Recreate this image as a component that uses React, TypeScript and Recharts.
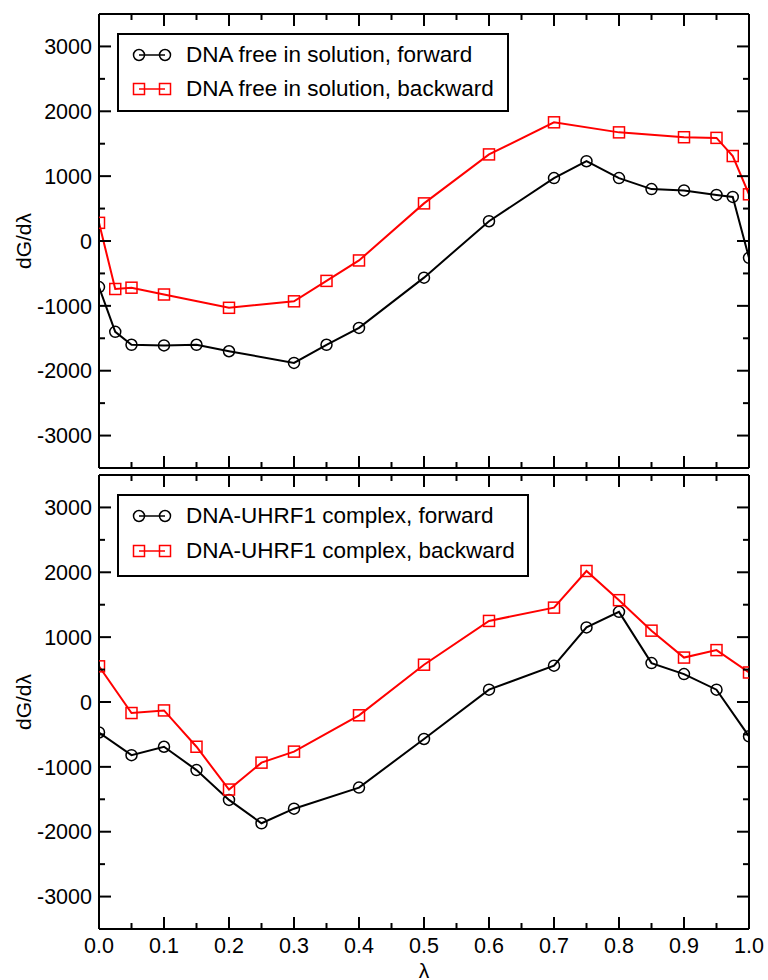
import React from 'react';
import { LineChart, Line, XAxis, YAxis, Legend } from 'recharts';

const FONT = '"Liberation Sans", Arial, Helvetica, sans-serif';
const RED = '#ff0000';
const BLACK = '#000000';

// upper panel: DNA free in solution
const freeFwdLambda = [0, 0.025, 0.05, 0.1, 0.15, 0.2, 0.3, 0.35, 0.4, 0.5, 0.6, 0.7, 0.75, 0.8, 0.85, 0.9, 0.95, 0.975, 1.0];
const freeFwdValues = [-710, -1400, -1600, -1610, -1600, -1700, -1880, -1600, -1340, -565, 305, 970, 1230, 970, 800, 780, 710, 680, -260];
const freeBwdLambda = [0, 0.025, 0.05, 0.1, 0.2, 0.3, 0.35, 0.4, 0.5, 0.6, 0.7, 0.8, 0.9, 0.95, 0.975, 1.0];
const freeBwdValues = [280, -740, -720, -825, -1030, -930, -615, -300, 580, 1335, 1830, 1675, 1600, 1590, 1310, 720];

// lower panel: DNA-UHRF1 complex
const cplxLambda = [0, 0.05, 0.1, 0.15, 0.2, 0.25, 0.3, 0.4, 0.5, 0.6, 0.7, 0.75, 0.8, 0.85, 0.9, 0.95, 1.0];
const cplxFwdValues = [-470, -820, -690, -1050, -1510, -1870, -1645, -1320, -570, 190, 560, 1150, 1390, 600, 430, 190, -530];
const cplxBwdValues = [550, -170, -130, -690, -1350, -935, -765, -205, 575, 1250, 1455, 2020, 1570, 1100, 685, 800, 455];

const freeNames = ['DNA free in solution, forward', 'DNA free in solution, backward'];
const cplxNames = ['DNA-UHRF1 complex, forward', 'DNA-UHRF1 complex, backward'];

// major ticks every 0.1 / 1000, minor in between
const xTickValues = [0, 0.05, 0.1, 0.15, 0.2, 0.25, 0.3, 0.35, 0.4, 0.45, 0.5, 0.55, 0.6, 0.65, 0.7, 0.75, 0.8, 0.85, 0.9, 0.95, 1.0];
const yTickValues = [-3000, -2500, -2000, -1500, -1000, -500, 0, 500, 1000, 1500, 2000, 2500, 3000];

const toPoints = (xs: number[], ys: number[]) => xs.map((x, i) => ({ x, y: ys[i] }));

const isMajorX = (v: number) => Math.round(v * 20) % 2 === 0;
const isMajorY = (v: number) => Math.round(v) % 1000 === 0;
const MAJOR = 12;
const MINOR = 6;
const TICK_FONT = 21.5;

const SquareDot = (props: any) => {
  const { cx, cy, index } = props;
  if (cx == null || cy == null) return null;
  return (
    <rect key={`sq-${index}`} x={cx - 5.5} y={cy - 5.5} width={11} height={11}
      fill="none" stroke={RED} strokeWidth={1.5} />
  );
};

// tick renderers: inward tick lines (+ optional outside labels)
const bottomTick = (withLabel: boolean) => (p: any) => {
  const v = p.payload.value;
  const len = isMajorX(v) ? MAJOR : MINOR;
  return (
    <g>
      <line x1={p.x} y1={p.y} x2={p.x} y2={p.y - len} stroke={BLACK} strokeWidth={2} />
      {withLabel && isMajorX(v) && (
        <text x={p.x} y={p.y + 9} dy="0.72em" textAnchor="middle" fontSize={TICK_FONT} fill={BLACK}>
          {v.toFixed(1)}
        </text>
      )}
    </g>
  );
};

const topTick = (p: any) => {
  const len = isMajorX(p.payload.value) ? MAJOR : MINOR;
  return <line x1={p.x} y1={p.y} x2={p.x} y2={p.y + len} stroke={BLACK} strokeWidth={2} />;
};

const leftTick = (p: any) => {
  const v = p.payload.value;
  const major = isMajorY(v);
  return (
    <g>
      <line x1={p.x} y1={p.y} x2={p.x + (major ? MAJOR : MINOR)} y2={p.y} stroke={BLACK} strokeWidth={2} />
      {major && (
        <text x={p.x - 7} y={p.y} dy="0.36em" textAnchor="end" fontSize={TICK_FONT} fill={BLACK}>
          {v}
        </text>
      )}
    </g>
  );
};

const rightTick = (p: any) => {
  const len = isMajorY(p.payload.value) ? MAJOR : MINOR;
  return <line x1={p.x} y1={p.y} x2={p.x - len} y2={p.y} stroke={BLACK} strokeWidth={2} />;
};

const frame = { stroke: BLACK, strokeWidth: 2 };

const LegendBox = ({ payload, width, rowH, padTop, padBottom }: any) => {
  // black (forward) entry first, as in the figure
  const items = [...(payload || [])].sort((a: any, b: any) => (a.color === RED ? 1 : 0) - (b.color === RED ? 1 : 0));
  return (
    <div style={{
      border: '2px solid #000', background: '#fff', width, boxSizing: 'border-box',
      padding: `${padTop}px 0 ${padBottom}px 13px`, fontFamily: FONT, fontSize: 22.5, color: '#000',
    }}>
      {items.map((entry: any, i: number) => {
        const isRed = entry.color === RED;
        return (
          <div key={i} style={{ display: 'flex', alignItems: 'center', height: rowH }}>
            <svg width={40} height={16} style={{ marginRight: 14 }}>
              <line x1={7} y1={8} x2={33} y2={8} stroke={entry.color} strokeWidth={1.5} />
              {isRed ? (
                <>
                  <rect x={1.5} y={2.5} width={11} height={11} fill="none" stroke={RED} strokeWidth={1.5} />
                  <rect x={27.5} y={2.5} width={11} height={11} fill="none" stroke={RED} strokeWidth={1.5} />
                </>
              ) : (
                <>
                  <circle cx={7} cy={8} r={5.5} fill="none" stroke={BLACK} strokeWidth={1.5} />
                  <circle cx={33} cy={8} r={5.5} fill="none" stroke={BLACK} strokeWidth={1.5} />
                </>
              )}
            </svg>
            <span>{entry.value}</span>
          </div>
        );
      })}
    </div>
  );
};

const yLabel = (props: any) => {
  const vb = props.viewBox || {};
  const x = (vb.x ?? 98) + (vb.width ?? 1) - 76;
  const y = (vb.y ?? 0) + (vb.height ?? 0) / 2;
  return (
    <text x={x} y={y} transform={`rotate(-90, ${x}, ${y})`} textAnchor="middle"
      dominantBaseline="central" fontSize={21} fill={BLACK}>dG/dλ</text>
  );
};

const xLabel = (props: any) => {
  const vb = props.viewBox || {};
  const x = (vb.x ?? 0) + (vb.width ?? 0) / 2;
  const y = (vb.y ?? 0) + 41;
  return (
    <text x={x} y={y} textAnchor="middle" dominantBaseline="central" fontSize={21} fill={BLACK}>λ</text>
  );
};

interface PanelProps {
  height: number;
  margin: { top: number; right: number; bottom: number; left: number };
  fwd: { x: number; y: number }[];
  bwd: { x: number; y: number }[];
  names: string[];
  showX: boolean;
  legendTop: number;
  legendWidth: number;
  rowH: number;
  padTop: number;
  padBottom: number;
}

const Panel: React.FC<PanelProps> = ({ height, margin, fwd, bwd, names, showX, legendTop, legendWidth, rowH, padTop, padBottom }) => (
  <LineChart width={768} height={height} margin={margin}>
    <XAxis xAxisId="b" type="number" dataKey="x" domain={[0, 1]} allowDataOverflow ticks={xTickValues}
      interval={0} height={1} tickSize={0} tickMargin={0} axisLine={frame} tickLine={false}
      tick={bottomTick(showX)} label={showX ? { content: xLabel } : undefined} />
    <XAxis xAxisId="t" orientation="top" type="number" dataKey="x" domain={[0, 1]} allowDataOverflow
      ticks={xTickValues} interval={0} height={1} tickSize={0} tickMargin={0} axisLine={frame}
      tickLine={false} tick={topTick} />
    <YAxis yAxisId="l" type="number" domain={[-3500, 3500]} allowDataOverflow ticks={yTickValues}
      interval={0} width={1} tickSize={0} tickMargin={0} axisLine={frame} tickLine={false}
      tick={leftTick} label={{ content: yLabel }} />
    <YAxis yAxisId="r" orientation="right" type="number" domain={[-3500, 3500]} allowDataOverflow
      ticks={yTickValues} interval={0} width={1} tickSize={0} tickMargin={0} axisLine={frame}
      tickLine={false} tick={rightTick} />
    <Legend layout="vertical" align="center" verticalAlign="middle"
      wrapperStyle={{ left: 117, top: legendTop, width: legendWidth, height: 'auto' }}
      content={(p: any) => (
        <LegendBox payload={p.payload} width={legendWidth} rowH={rowH} padTop={padTop} padBottom={padBottom} />
      )} />
    <Line xAxisId="b" yAxisId="l" data={fwd} dataKey="y" name={names[0]} type="linear"
      stroke={BLACK} strokeWidth={2} isAnimationActive={false}
      dot={{ r: 5.5, fill: 'none', stroke: BLACK, strokeWidth: 1.5 }} activeDot={false} />
    <Line xAxisId="b" yAxisId="l" data={bwd} dataKey="y" name={names[1]} type="linear"
      stroke={RED} strokeWidth={2} isAnimationActive={false}
      dot={SquareDot} activeDot={false} />
  </LineChart>
);

export default function App() {
  return (
    <div style={{ position: 'absolute', left: 0, top: 0, width: 768, height: 980, background: '#fff', fontFamily: FONT }}>
      <div style={{ position: 'absolute', left: 0, top: 0 }}>
        <Panel height={470} margin={{ top: 13, right: 18, bottom: 1, left: 98 }}
          fwd={toPoints(freeFwdLambda, freeFwdValues)} bwd={toPoints(freeBwdLambda, freeBwdValues)}
          names={freeNames} showX={false} legendTop={33} legendWidth={392}
          rowH={34} padTop={3} padBottom={4} />
      </div>
      <div style={{ position: 'absolute', left: 0, top: 470 }}>
        <Panel height={510} margin={{ top: 4, right: 18, bottom: 50, left: 98 }}
          fwd={toPoints(cplxLambda, cplxFwdValues)} bwd={toPoints(cplxLambda, cplxBwdValues)}
          names={cplxNames} showX={true} legendTop={24} legendWidth={412}
          rowH={35} padTop={2.5} padBottom={6} />
      </div>
    </div>
  );
}
